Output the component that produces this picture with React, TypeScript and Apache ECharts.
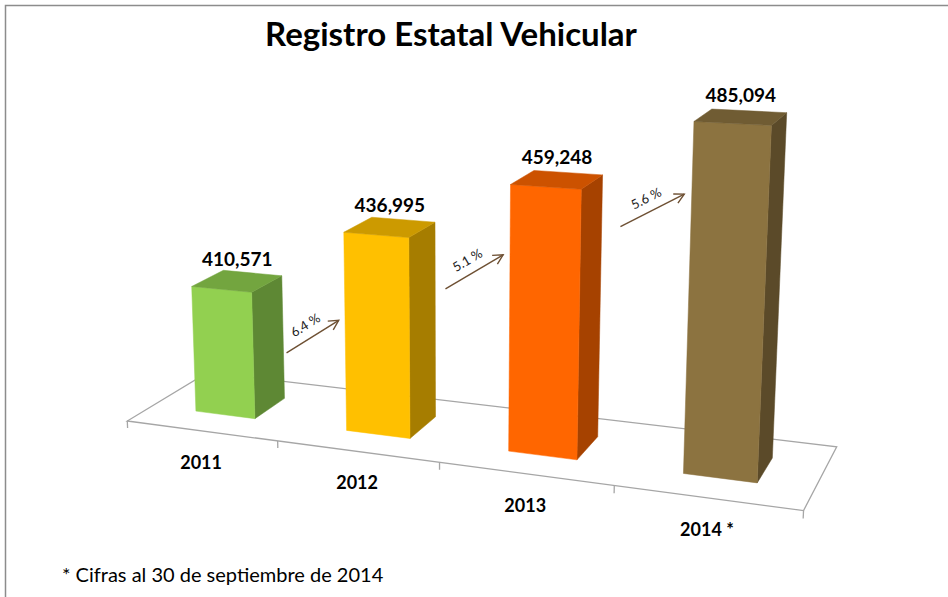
import React, { useEffect, useRef } from 'react';
import * as echarts from 'echarts';

// ---------- data ----------
const categories = ['2011', '2012', '2013', '2014 *'];
const values = [410571, 436995, 459248, 485094];
const growthLabels = ['6.4 %', '5.1 %', '5.6 %'];
// value levels where the growth arrows start / end
const arrowFrom = [388000, 419000, 447000];
const arrowTo = [403000, 433500, 460000];
const axisMin = 360000;
const axisMax = 500000;

// ---------- styles ----------
const frontColors = ['#92D050', '#FFC000', '#FF6600', '#8C7340'];
const topColors = ['#73A53F', '#CC9A00', '#CC5200', '#705C33'];
const sideColors = ['#5E8834', '#A67D00', '#A64200', '#5B4A29'];

const FONT = 'Lato, "Open Sans", sans-serif';

// perspective camera (floor homography + vertical vanishing direction)
const CAM = {
  A: 561.9, B: 97.4, C: 127.3,
  D: 16.9, E: -17.9, F: 421,
  G: -0.1423, H: 0.0824,
  VX: 455, VY: 8100,
  TMAX: 0.0448,
};
const BAR_FRACTION = 0.4; // bar width share of a category
const DEPTH_FRONT = 0.3;
const DEPTH_BACK = 0.7;

function proj(u: number, w: number, t: number): number[] {
  const X = CAM.A * u + CAM.B * w + CAM.C + CAM.VX * t;
  const Y = CAM.D * u + CAM.E * w + CAM.F + CAM.VY * t;
  const W = CAM.G * u + CAM.H * w + 1 + t;
  return [X / W, Y / W];
}

function geom(params: any, api: any, idx: number, val: number) {
  const cs = params.coordSys;
  const p = api.coord([idx, val]);
  const base = api.coord([idx, axisMin]);
  const band = api.size([1, 0])[0];
  const uc = (p[0] - cs.x) / cs.width;
  const hw = (band * BAR_FRACTION) / 2 / cs.width;
  const t = -((base[1] - p[1]) / cs.height) * CAM.TMAX;
  return { uc, hw, t };
}

const renderFloor = (params: any, api: any) => {
  const c0 = proj(0, 0, 0);
  const c1 = proj(1, 0, 0);
  const c2 = proj(1, 1, 0);
  const c3 = proj(0, 1, 0);
  const children: any[] = [
    {
      type: 'polygon',
      shape: { points: [c0, c1, c2, c3] },
      style: { fill: 'none', stroke: '#A6A6A6', lineWidth: 1.3 },
    },
  ];
  const n = categories.length;
  for (let k = 0; k <= n; k++) {
    const a = proj(k / n, 0, 0);
    const b = proj(k / n, 0, 0.0009);
    children.push({
      type: 'line',
      shape: { x1: a[0], y1: a[1], x2: b[0], y2: b[1] },
      style: { stroke: '#A6A6A6', lineWidth: 1.3 },
    });
  }
  return { type: 'group', children };
};

const renderBar = (params: any, api: any) => {
  const i = api.value(0);
  const v = api.value(1);
  const { uc, hw, t } = geom(params, api, i, v);
  const u0 = uc - hw;
  const u1 = uc + hw;
  const w0 = DEPTH_FRONT;
  const w1 = DEPTH_BACK;
  const front = [proj(u0, w0, 0), proj(u1, w0, 0), proj(u1, w0, t), proj(u0, w0, t)];
  const side = [proj(u1, w0, 0), proj(u1, w1, 0), proj(u1, w1, t), proj(u1, w0, t)];
  const top = [proj(u0, w0, t), proj(u1, w0, t), proj(u1, w1, t), proj(u0, w1, t)];
  const lab = proj(uc, 0.5, t);
  const cat = proj(uc, 0, 0);
  const di = params.dataIndex;
  return {
    type: 'group',
    children: [
      { type: 'polygon', shape: { points: side }, style: { fill: sideColors[di], stroke: sideColors[di], lineWidth: 0.5 } },
      { type: 'polygon', shape: { points: front }, style: { fill: frontColors[di], stroke: frontColors[di], lineWidth: 0.5 } },
      { type: 'polygon', shape: { points: top }, style: { fill: topColors[di], stroke: topColors[di], lineWidth: 0.5 } },
      {
        type: 'text',
        x: lab[0],
        y: lab[1] - 23,
        style: {
          text: values[di].toLocaleString('en-US'),
          fill: '#000',
          font: `bold 19px ${FONT}`,
          textAlign: 'center',
          textVerticalAlign: 'middle',
          align: 'center',
          verticalAlign: 'middle',
        },
      },
      {
        type: 'text',
        x: cat[0],
        y: cat[1] + 31,
        style: {
          text: categories[di],
          fill: '#000',
          font: `bold 18px ${FONT}`,
          textAlign: 'center',
          textVerticalAlign: 'middle',
          align: 'center',
          verticalAlign: 'middle',
        },
      },
    ],
  };
};

const renderArrow = (params: any, api: any) => {
  const i = api.value(0);
  const from = api.value(1);
  const to = api.value(2);
  const gPrev = geom(params, api, i - 1, from);
  const gCur = geom(params, api, i, to);
  const a = proj(gPrev.uc + gPrev.hw + 0.055, DEPTH_FRONT, gPrev.t);
  const b = proj(gCur.uc - gCur.hw - 0.01, DEPTH_FRONT, gCur.t);
  const ang = Math.atan2(b[1] - a[1], b[0] - a[0]);
  const len = 11;
  const spread = (28 * Math.PI) / 180;
  const h1 = [b[0] - len * Math.cos(ang - spread), b[1] - len * Math.sin(ang - spread)];
  const h2 = [b[0] - len * Math.cos(ang + spread), b[1] - len * Math.sin(ang + spread)];
  const mx = (a[0] + b[0]) / 2;
  const my = (a[1] + b[1]) / 2;
  // normal pointing up-left
  const nx = Math.sin(ang);
  const ny = -Math.cos(ang);
  const off = 14;
  const arrowColor = '#6E5033';
  return {
    type: 'group',
    children: [
      { type: 'line', shape: { x1: a[0], y1: a[1], x2: b[0], y2: b[1] }, style: { stroke: arrowColor, lineWidth: 1.4 } },
      { type: 'polyline', shape: { points: [h1, b, h2] }, style: { stroke: arrowColor, lineWidth: 1.4, fill: 'none' } },
      {
        type: 'text',
        x: mx + nx * off,
        y: my + ny * off,
        rotation: -ang,
        style: {
          text: growthLabels[params.dataIndex],
          fill: '#222',
          font: `13px ${FONT}`,
          textAlign: 'center',
          textVerticalAlign: 'middle',
          align: 'center',
          verticalAlign: 'middle',
        },
      },
    ],
  };
};

export default function App() {
  const ref = useRef<HTMLDivElement>(null);
  useEffect(() => {
    if (!ref.current) return;
    const chart = echarts.init(ref.current, null, { renderer: 'svg' });
    const barData = categories.map((c, i) => [i, values[i]]);
    const arrowData = growthLabels.map((g, k) => [k + 1, arrowFrom[k], arrowTo[k]]);
    chart.setOption({
      animation: false,
      backgroundColor: '#ffffff',
      grid: { left: 100, right: 100, top: 100, bottom: 100 },
      xAxis: { type: 'category', data: categories, show: false },
      yAxis: { type: 'value', min: axisMin, max: axisMax, show: false },
      graphic: [
        {
          type: 'rect',
          shape: { x: 5.5, y: 5.5, width: 1000, height: 700 },
          style: { fill: 'none', stroke: '#8C8C8C', lineWidth: 1.5 },
          z: -10,
        },
        {
          type: 'text',
          x: 451,
          y: 33,
          style: {
            text: 'Registro Estatal Vehicular',
            font: `bold 33px ${FONT}`,
            fill: '#000',
            textAlign: 'center',
            textVerticalAlign: 'middle',
          },
        },
        {
          type: 'text',
          x: 62,
          y: 574,
          style: {
            text: '* Cifras al 30 de septiembre de 2014',
            font: `20px ${FONT}`,
            fill: '#000',
            textAlign: 'left',
            textVerticalAlign: 'middle',
          },
        },
      ],
      series: [
        { type: 'custom', name: 'floor', renderItem: renderFloor, data: [[0, axisMin]], silent: true, z: 1 },
        { type: 'custom', name: 'bars', renderItem: renderBar, data: barData, encode: { x: 0, y: 1 }, silent: true, z: 2 },
        { type: 'custom', name: 'growth', renderItem: renderArrow, data: arrowData, encode: { x: 0, y: 1 }, silent: true, z: 3 },
      ],
    });
    return () => chart.dispose();
  }, []);
  return <div ref={ref} style={{ position: 'fixed', left: 0, top: 0, width: 948, height: 597 }} />;
}
